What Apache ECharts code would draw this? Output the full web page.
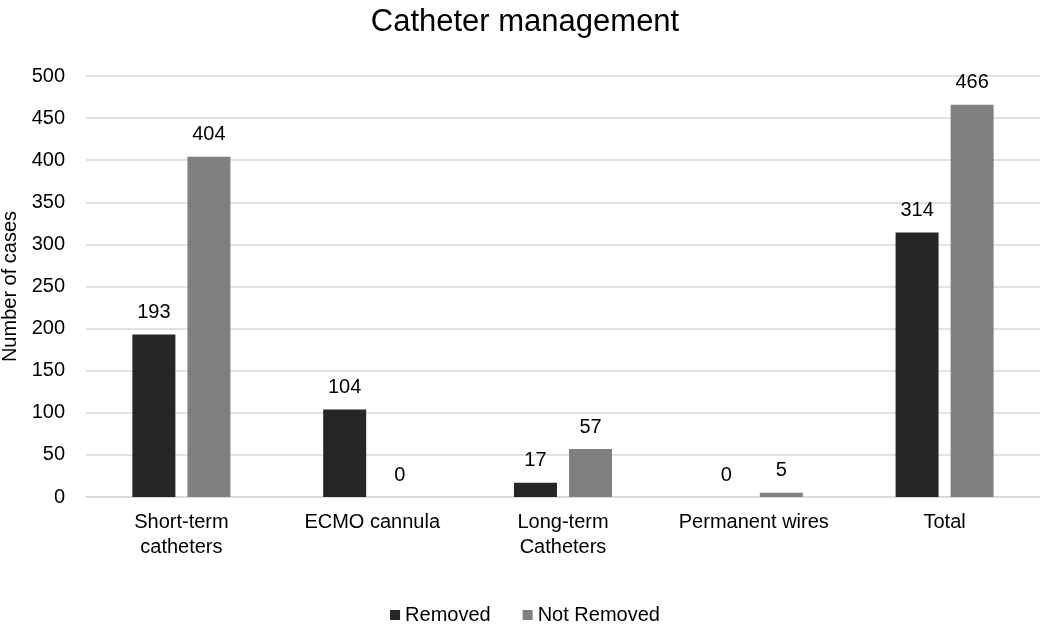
<!DOCTYPE html>
<html>
<head>
<meta charset="utf-8">
<script src="https://cdn.jsdelivr.net/npm/echarts@6/dist/echarts.min.js"></script>
<style>
  html, body { margin: 0; padding: 0; background: #fff; }
  #chart { width: 1050px; height: 630px; }
</style>
</head>
<body>
<div id="chart"></div>
<script>
  // data
  const categories = ['Short-term\ncatheters', 'ECMO cannula', 'Long-term\nCatheters', 'Permanent wires', 'Total'];
  const removed = [193, 104, 17, 0, 314];
  const notRemoved = [404, 0, 57, 5, 466];

  const font = 'Liberation Sans, Arial, sans-serif';
  const myChart = echarts.init(document.getElementById('chart'));

  const option = {
    backgroundColor: '#fff',
    textStyle: { fontFamily: font },
    title: {
      text: 'Catheter management',
      left: 'center',
      top: 2,
      textStyle: { fontSize: 31, fontWeight: 'normal', color: '#000', fontFamily: font }
    },
    legend: {
      bottom: 0,
      left: 'center',
      itemWidth: 10,
      itemHeight: 10,
      itemGap: 32,
      icon: 'rect',
      textStyle: { fontSize: 20, color: '#000', fontFamily: font },
      data: ['Removed', 'Not Removed']
    },
    grid: {
      left: 86,
      right: 10,
      top: 76,
      bottom: 133,
      outerBoundsMode: 'none'
    },
    xAxis: {
      type: 'category',
      data: categories,
      axisLine: { show: true, lineStyle: { color: '#d9d9d9', width: 1.5 } },
      axisTick: { show: false },
      axisLabel: { interval: 0, fontSize: 20, color: '#000', lineHeight: 25, margin: 13 }
    },
    yAxis: {
      type: 'value',
      min: 0,
      max: 500,
      interval: 50,
      name: 'Number of cases',
      nameLocation: 'middle',
      nameGap: 62,
      nameTextStyle: { fontSize: 20, color: '#000' },
      axisLine: { show: false },
      axisTick: { show: false },
      axisLabel: { fontSize: 20, color: '#000', margin: 21 },
      splitLine: { lineStyle: { color: '#d9d9d9', width: 1.5 } }
    },
    series: [
      {
        name: 'Removed',
        type: 'bar',
        data: removed,
        barWidth: 43,
        barGap: '28%',
        itemStyle: { color: '#262626' },
        label: { show: true, position: 'top', distance: 12, fontSize: 20, color: '#000' }
      },
      {
        name: 'Not Removed',
        type: 'bar',
        data: notRemoved,
        barWidth: 43,
        itemStyle: { color: '#808080' },
        label: { show: true, position: 'top', distance: 12, fontSize: 20, color: '#000' }
      }
    ]
  };

  myChart.setOption(option);
</script>
</body>
</html>
